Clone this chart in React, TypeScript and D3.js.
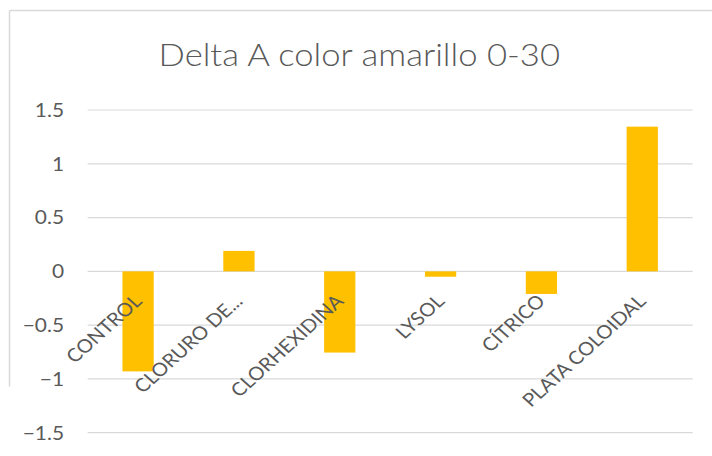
import React from "react";
import * as d3 from "d3";

// Chart data
const categories = ["CONTROL", "CLORURO DE...", "CLORHEXIDINA", "LYSOL", "CÍTRICO", "PLATA COLOIDAL"];
const values = [-0.93, 0.19, -0.755, -0.05, -0.21, 1.345];
const yTicks = [-1.5, -1, -0.5, 0, 0.5, 1, 1.5];
const title = "Delta A color amarillo 0-30";

const WIDTH = 712;
const HEIGHT = 456;
// the whole drawing is rendered slightly wider than its layout space
const SX = 1.1;
const W = WIDTH / SX;

const FONT = "Lato, 'Open Sans', sans-serif";
const TEXT = "#595959";
const GRID = "#d9d9d9";
const BAR = "#FFC000";

const plotLeft = 79.7;
const plotRight = 629.7;
const plotTop = 110;
const plotBottom = 432.7;

export default function App() {
  const x = d3
    .scaleBand<string>()
    .domain(categories)
    .range([plotLeft, plotRight])
    .paddingInner(0.69)
    .paddingOuter(0.345);
  const y = d3.scaleLinear().domain([-1.5, 1.5]).range([plotBottom, plotTop]);
  const fmt = d3.format("~g");
  const y0 = y(0);

  return (
    <svg
      width={WIDTH}
      height={HEIGHT}
      style={{ position: "absolute", left: 0, top: 0, background: "#fff" }}
    >
      <rect x={0} y={0} width={WIDTH} height={HEIGHT} fill="#fff" />
      {/* chart frame */}
      <line x1={9.5} y1={10.5} x2={WIDTH} y2={10.5} stroke={GRID} strokeWidth={1.5} />
      <line x1={9.5} y1={10.5} x2={9.5} y2={386.5} stroke={GRID} strokeWidth={1.5} />

      <g transform={`scale(${SX},1)`}>
        <text
          x={W / 2 + 3}
          y={66}
          textAnchor="middle"
          fontFamily={FONT}
          fontSize={31.5}
          fontWeight={300}
          fill={TEXT}
        >
          {title}
        </text>

        {/* gridlines */}
        {yTicks.map((t) => (
          <line
            key={"g" + t}
            x1={plotLeft}
            x2={plotRight}
            y1={y(t)}
            y2={y(t)}
            stroke={GRID}
            strokeWidth={1.2}
          />
        ))}

        {/* y tick labels */}
        {yTicks.map((t) => (
          <text
            key={"t" + t}
            x={58.2}
            y={y(t)}
            dy="0.36em"
            textAnchor="end"
            fontFamily={FONT}
            fontSize={19}
            fill={TEXT}
          >
            {fmt(t)}
          </text>
        ))}

        {/* bars */}
        {categories.map((c, i) => {
          const v = values[i];
          return (
            <rect
              key={"b" + c}
              x={x(c)}
              width={x.bandwidth()}
              y={Math.min(y(v), y0)}
              height={Math.abs(y(v) - y0)}
              fill={BAR}
            />
          );
        })}

        {/* category labels */}
        {categories.map((c) => {
          const cx = (x(c) as number) + x.bandwidth() / 2 + 4.5;
          return (
            <text
              key={"c" + c}
              transform={`translate(${cx},${y0 + 31}) rotate(-45)`}
              textAnchor="end"
              fontFamily={FONT}
              fontSize={18.5}
              fill={TEXT}
            >
              {c}
            </text>
          );
        })}
      </g>
    </svg>
  );
}
